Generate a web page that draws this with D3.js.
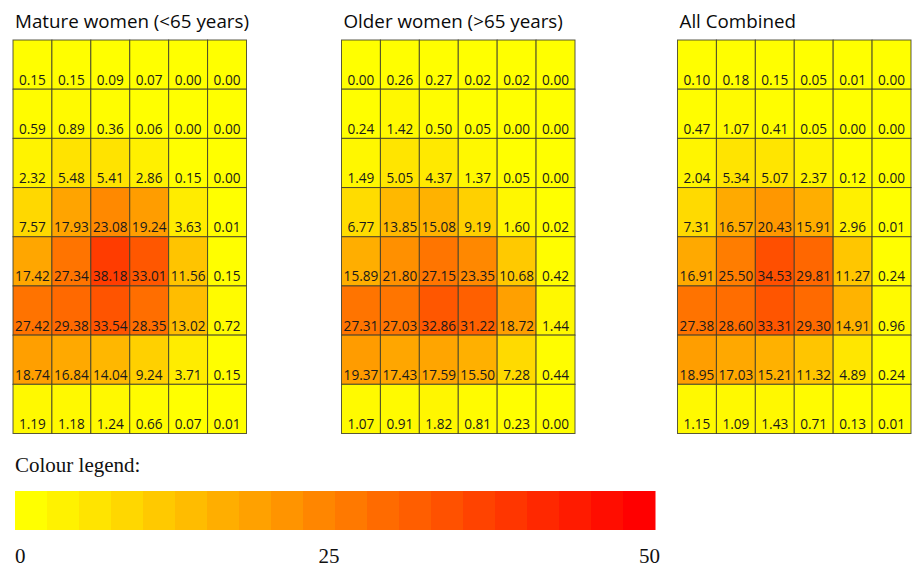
<!DOCTYPE html>
<html>
<head>
<meta charset="utf-8">
<script src="https://cdn.jsdelivr.net/npm/d3@7"></script>
<style>
  html, body { margin: 0; padding: 0; background: #fff; }
  svg { display: block; }
</style>
</head>
<body>
<svg id="chart" width="912" height="569"></svg>
<script>
// ---- Data ----
const panelTitles = ["Mature women (<65 years)", "Older women (>65 years)", "All Combined"];

const matureWomen = [
  [0.15, 0.15, 0.09, 0.07, 0.00, 0.00],
  [0.59, 0.89, 0.36, 0.06, 0.00, 0.00],
  [2.32, 5.48, 5.41, 2.86, 0.15, 0.00],
  [7.57, 17.93, 23.08, 19.24, 3.63, 0.01],
  [17.42, 27.34, 38.18, 33.01, 11.56, 0.15],
  [27.42, 29.38, 33.54, 28.35, 13.02, 0.72],
  [18.74, 16.84, 14.04, 9.24, 3.71, 0.15],
  [1.19, 1.18, 1.24, 0.66, 0.07, 0.01]
];

const olderWomen = [
  [0.00, 0.26, 0.27, 0.02, 0.02, 0.00],
  [0.24, 1.42, 0.50, 0.05, 0.00, 0.00],
  [1.49, 5.05, 4.37, 1.37, 0.05, 0.00],
  [6.77, 13.85, 15.08, 9.19, 1.60, 0.02],
  [15.89, 21.80, 27.15, 23.35, 10.68, 0.42],
  [27.31, 27.03, 32.86, 31.22, 18.72, 1.44],
  [19.37, 17.43, 17.59, 15.50, 7.28, 0.44],
  [1.07, 0.91, 1.82, 0.81, 0.23, 0.00]
];

const allCombined = [
  [0.10, 0.18, 0.15, 0.05, 0.01, 0.00],
  [0.47, 1.07, 0.41, 0.05, 0.00, 0.00],
  [2.04, 5.34, 5.07, 2.37, 0.12, 0.00],
  [7.31, 16.57, 20.43, 15.91, 2.96, 0.01],
  [16.91, 25.50, 34.53, 29.81, 11.27, 0.24],
  [27.38, 28.60, 33.31, 29.30, 14.91, 0.96],
  [18.95, 17.03, 15.21, 11.32, 4.89, 0.24],
  [1.15, 1.09, 1.43, 0.71, 0.13, 0.01]
];

const legendTitle = "Colour legend:";
const legendTicks = [0, 25, 50];
const legendSteps = 20;

// ---- Drawing ----
const svg = d3.select("#chart");
const panels = [matureWomen, olderWomen, allCombined];
const panelLeft = [13, 341.5, 677.5];
const panelW = 233.5, gridTop = 40, gridH = 393.5;

const color = d3.scaleLinear().domain([0, 50]).range(["#ffff00", "#ff0000"]).clamp(true);

panels.forEach((data, p) => {
  const g = svg.append("g").attr("transform", `translate(${panelLeft[p]},${gridTop})`);
  const x = d3.scaleBand().domain(d3.range(data[0].length)).range([0, panelW]);
  const y = d3.scaleBand().domain(d3.range(data.length)).range([0, gridH]);

  const cells = data.flatMap((row, r) => row.map((v, c) => ({ r, c, v })));

  g.selectAll("rect.cell").data(cells).join("rect")
    .attr("class", "cell")
    .attr("x", d => x(d.c)).attr("y", d => y(d.r))
    .attr("width", x.bandwidth()).attr("height", y.bandwidth())
    .attr("fill", d => color(d.v))
    .attr("stroke", "#3d3d2a").attr("stroke-width", 1).attr("stroke-opacity", 0.85);

  g.selectAll("text.val").data(cells).join("text")
    .attr("class", "val")
    .attr("x", d => x(d.c) + x.bandwidth() / 2)
    .attr("y", d => y(d.r) + y.bandwidth() - 4.5)
    .attr("text-anchor", "middle")
    .attr("font-family", "'Open Sans', sans-serif")
    .attr("font-size", 13.6)
    .attr("fill", "#1a1a1a")
    .text(d => d.v.toFixed(2));

  svg.append("text")
    .attr("x", panelLeft[p] + 2).attr("y", 27.5)
    .attr("font-family", "'Open Sans', sans-serif")
    .attr("font-size", 18.8)
    .attr("fill", "#0a0a0a")
    .text(panelTitles[p]);
});

// Legend
svg.append("text")
  .attr("x", 15).attr("y", 472)
  .attr("font-family", "'Liberation Serif', 'Times New Roman', serif")
  .attr("font-size", 21)
  .attr("fill", "#111")
  .text(legendTitle);

const lx = d3.scaleLinear().domain([0, 50]).range([15, 655]);
const stepW = 50 / legendSteps;
svg.selectAll("rect.leg").data(d3.range(legendSteps)).join("rect")
  .attr("class", "leg")
  .attr("x", i => lx(i * stepW)).attr("y", 491)
  .attr("width", lx(stepW) - lx(0) + 0.5).attr("height", 39)
  .attr("fill", i => color(i / (legendSteps - 1) * 50));

svg.selectAll("text.lt").data(legendTicks).join("text")
  .attr("class", "lt")
  .attr("x", d => d === 0 ? lx(d) : (d === 50 ? lx(d) + 5 : lx(d) - 6))
  .attr("y", 563)
  .attr("text-anchor", d => d === 0 ? "start" : (d === 50 ? "end" : "middle"))
  .attr("font-family", "'Liberation Serif', 'Times New Roman', serif")
  .attr("font-size", 21)
  .attr("fill", "#111")
  .text(d => d);
</script>
</body>
</html>
